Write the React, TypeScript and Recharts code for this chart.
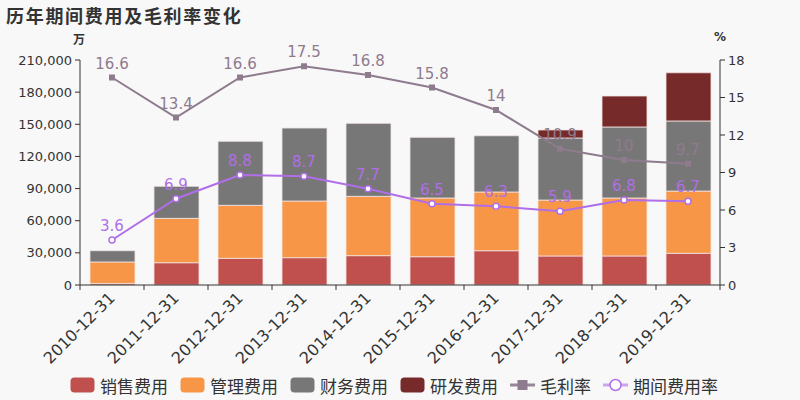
import React from 'react';
import { ComposedChart, Bar, Line, XAxis, YAxis, Legend, LabelList } from 'recharts';

// 年份
const years = ['2010-12-31', '2011-12-31', '2012-12-31', '2013-12-31', '2014-12-31', '2015-12-31', '2016-12-31', '2017-12-31', '2018-12-31', '2019-12-31'];
// 费用（万）
const salesExpense = [1500, 20800, 24900, 25500, 27400, 26400, 32000, 27100, 27100, 29600];
const adminExpense = [20000, 41400, 49450, 52900, 55350, 54800, 54800, 52200, 54100, 58100];
const financeExpense = [10500, 29900, 59750, 68100, 68150, 56600, 52500, 57900, 66300, 65400];
const rdExpense = [0, 0, 0, 0, 0, 0, 0, 7500, 28900, 45000];
// 比率（%）
const grossMargin = [16.6, 13.4, 16.6, 17.5, 16.8, 15.8, 14, 10.9, 10, 9.7];
const periodRate = [3.6, 6.9, 8.8, 8.7, 7.7, 6.5, 6.3, 5.9, 6.8, 6.7];

const leftTicks = [0, 30000, 60000, 90000, 120000, 150000, 180000, 210000];
const rightTicks = [0, 3, 6, 9, 12, 15, 18];

const data = years.map((year, i) => ({
  year,
  sales: salesExpense[i],
  admin: adminExpense[i],
  finance: financeExpense[i],
  rd: rdExpense[i],
  margin: grossMargin[i],
  rate: periodRate[i],
}));

const FONT = '"DejaVu Sans", "Noto Sans CJK SC", sans-serif';
const TEXT = '#333';
const C_SALES = '#c0504d';
const C_ADMIN = '#f79646';
const C_FIN = '#777777';
const C_RD = '#772a2a';
const C_MARGIN = '#8e7b8e';
const C_RATE = '#b06ee8';

const XTick = (props: any) => {
  const { x, y, payload, index, width, visibleTicksCount } = props;
  const half = width / visibleTicksCount / 2;
  return (
    <g>
      <line x1={x - half} x2={x - half} y1={y - 8} y2={y - 3} stroke={TEXT} />
      {index === visibleTicksCount - 1 && (
        <line x1={x + half} x2={x + half} y1={y - 8} y2={y - 3} stroke={TEXT} />
      )}
      <text
        x={x + 4}
        y={y + 6}
        textAnchor="end"
        fill={TEXT}
        fontSize={16}
        fontFamily={FONT}
        transform={`rotate(-45, ${x + 4}, ${y + 6})`}
      >
        {payload.value}
      </text>
    </g>
  );
};

const SquareDot = (props: any) => {
  const { cx, cy } = props;
  if (cx == null || cy == null) return null;
  return <rect x={cx - 3} y={cy - 3} width={6} height={6} fill={C_MARGIN} />;
};

const legendItems = [
  { name: '销售费用', color: C_SALES, kind: 'bar' },
  { name: '管理费用', color: C_ADMIN, kind: 'bar' },
  { name: '财务费用', color: C_FIN, kind: 'bar' },
  { name: '研发费用', color: C_RD, kind: 'bar' },
  { name: '毛利率', color: C_MARGIN, kind: 'square' },
  { name: '期间费用率', color: C_RATE, kind: 'circle' },
];

const renderLegend = () => (
  <div style={{ display: 'flex', justifyContent: 'center', alignItems: 'center', height: 40, paddingTop: 10, boxSizing: 'border-box', fontFamily: FONT }}>
    {legendItems.map((it) => (
      <div key={it.name} style={{ display: 'flex', alignItems: 'center', marginRight: 12 }}>
        <svg width={25} height={16} style={{ marginRight: 5 }}>
          {it.kind === 'bar' && <rect x={0.5} y={0.5} width={24} height={15} rx={4} fill={it.color} />}
          {it.kind !== 'bar' && <line x1={0} x2={25} y1={8} y2={8} stroke={it.color} strokeWidth={3} opacity={it.kind === 'circle' ? 0.6 : 0.9} />}
          {it.kind === 'square' && <rect x={7.5} y={3} width={10} height={10} fill={it.color} />}
          {it.kind === 'circle' && <circle cx={12.5} cy={8} r={5.5} fill="#fff" stroke={it.color} strokeWidth={1.5} />}
        </svg>
        <span style={{ fontSize: 17, color: TEXT }}>{it.name}</span>
      </div>
    ))}
  </div>
);

export default function App() {
  const barStroke = { stroke: '#f2e4e4', strokeWidth: 1, strokeOpacity: 0.8 };
  return (
    <div style={{ position: 'absolute', left: 0, top: 0, width: 800, height: 400, background: '#f8f8f8', fontFamily: FONT }}>
      <div style={{ position: 'absolute', left: 6, top: 2, fontSize: 18, fontWeight: 'bold', color: TEXT, letterSpacing: 1.7 }}>
        历年期间费用及毛利率变化
      </div>
      <div style={{ position: 'absolute', left: 73, top: 30, fontSize: 12, fontWeight: 'bold', color: TEXT }}>万</div>
      <div style={{ position: 'absolute', left: 714, top: 30, fontSize: 12, fontWeight: 'bold', color: TEXT }}>%</div>
      <ComposedChart width={800} height={400} data={data} margin={{ top: 60, right: 0, left: 0, bottom: 0 }}>
        <XAxis
          dataKey="year"
          xAxisId={0}
          height={75}
          interval={0}
          tickSize={0}
          tickMargin={8}
          tick={<XTick />}
          axisLine={{ stroke: TEXT }}
        />
        <YAxis
          yAxisId="left"
          width={80}
          domain={[0, 210000]}
          ticks={leftTicks}
          tickFormatter={(v: number) => v.toLocaleString('en-US')}
          tick={{ fill: TEXT, fontSize: 13, fontFamily: FONT }}
          axisLine={{ stroke: TEXT }}
          tickLine={{ stroke: TEXT }}
          tickSize={5}
          tickMargin={3}
        />
        <YAxis
          yAxisId="right"
          orientation="right"
          width={80}
          domain={[0, 18]}
          ticks={rightTicks}
          tick={{ fill: TEXT, fontSize: 13, fontFamily: FONT }}
          axisLine={{ stroke: TEXT }}
          tickLine={{ stroke: TEXT }}
          tickSize={5}
          tickMargin={3}
        />
        <Legend verticalAlign="bottom" height={40} content={renderLegend} />
        <Bar yAxisId="left" dataKey="sales" name="销售费用" stackId="a" fill={C_SALES} barSize={45} {...barStroke} isAnimationActive={false} />
        <Bar yAxisId="left" dataKey="admin" name="管理费用" stackId="a" fill={C_ADMIN} barSize={45} {...barStroke} isAnimationActive={false} />
        <Bar yAxisId="left" dataKey="finance" name="财务费用" stackId="a" fill={C_FIN} barSize={45} {...barStroke} isAnimationActive={false} />
        <Bar yAxisId="left" dataKey="rd" name="研发费用" stackId="a" fill={C_RD} barSize={45} {...barStroke} isAnimationActive={false} />
        <Line yAxisId="right" dataKey="margin" name="毛利率" stroke={C_MARGIN} strokeWidth={2} dot={<SquareDot />} activeDot={false} isAnimationActive={false}>
          <LabelList dataKey="margin" position="top" offset={9} fill={C_MARGIN} fontSize={15} fontFamily={FONT} />
        </Line>
        <Line yAxisId="right" dataKey="rate" name="期间费用率" stroke={C_RATE} strokeWidth={2} dot={{ r: 3, fill: '#fff', stroke: C_RATE, strokeWidth: 1.5 }} activeDot={false} isAnimationActive={false}>
          <LabelList dataKey="rate" position="top" offset={9} fill={C_RATE} fontSize={15} fontFamily={FONT} />
        </Line>
      </ComposedChart>
    </div>
  );
}
